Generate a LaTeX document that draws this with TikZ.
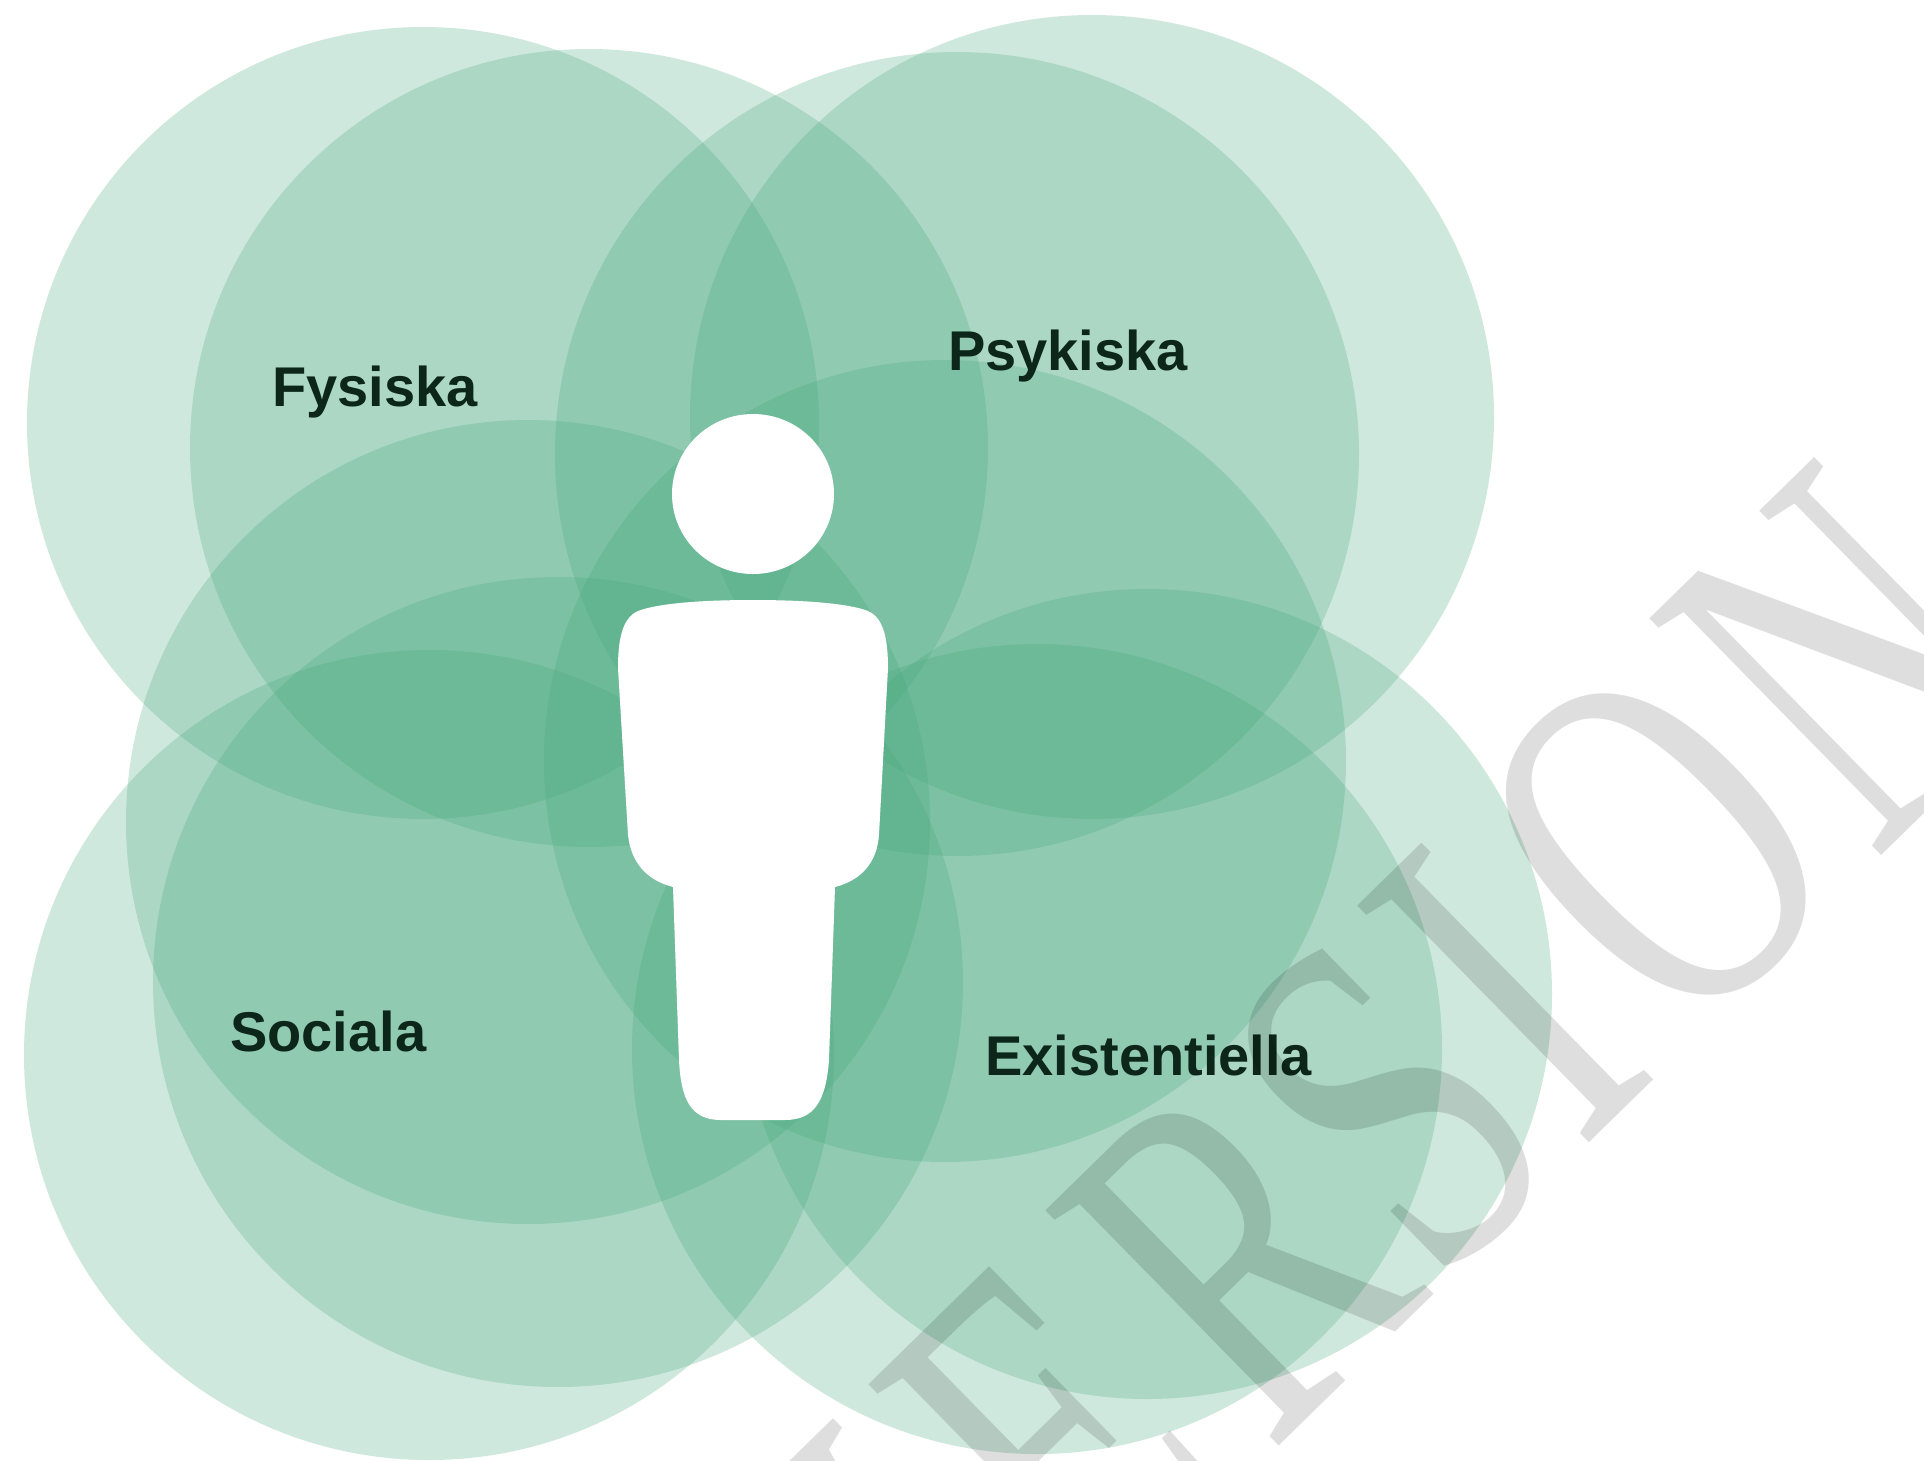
\documentclass[tikz,border=0pt]{standalone}
\usepackage{fontspec}
\newfontfamily\labfont{Liberation Sans}
\newfontfamily\wmfont{Liberation Serif}
\definecolor{circgreen}{HTML}{43A77B}
\definecolor{labcol}{HTML}{0C2619}
\newcommand{\wmlet}[1]{\scalebox{0.68}[1]{#1}}
\tikzset{
  ring/.style={fill=circgreen, fill opacity=0.25, draw=none},
  lab/.style={anchor=base west, inner sep=0pt, text=labcol, font=\labfont\bfseries\fontsize{56}{60}\selectfont},
  wmark/.style={anchor=base, inner sep=0pt, text=black, text opacity=0.13, font=\wmfont\fontsize{506}{506}\selectfont, rotate=44.4},
  person/.style={fill=white, draw=none}
}
\begin{document}
\begin{tikzpicture}[x=1pt,y=-1pt]
\useasboundingbox (0,0) rectangle (1924,1460);
\clip (0,0) rectangle (1924,1460);
\fill[white] (0,0) rectangle (1924,1460);
% circles
\fill[ring] (423,423) circle[radius=396];
\fill[ring] (589,448) circle[radius=399];
\fill[ring] (1092,417) circle[radius=402];
\fill[ring] (957,454) circle[radius=402];
\fill[ring] (528,822) circle[radius=402];
\fill[ring] (558,982) circle[radius=405];
\fill[ring] (429,1055) circle[radius=405];
\fill[ring] (945,761) circle[radius=401];
\fill[ring] (1147,994) circle[radius=405];
\fill[ring] (1037,1049) circle[radius=405];
% person
\fill[person] (753,494) ellipse[x radius=81, y radius=80];
\fill[person] (753,600) .. controls (810,600) and (850,604) .. (868,611)
  .. controls (884,618) and (888,640) .. (888,668)
  -- (879,835)
  .. controls (877,862) and (862,880) .. (835,887)
  -- (829,1060)
  .. controls (826,1100) and (815,1120) .. (785,1120)
  -- (721,1120)
  .. controls (691,1120) and (681,1100) .. (679,1060)
  -- (673,887)
  .. controls (646,880) and (631,862) .. (628,835)
  -- (618,668)
  .. controls (618,640) and (622,618) .. (638,611)
  .. controls (656,604) and (696,600) .. (753,600) -- cycle;
% labels
\node[lab] (fys) at (272,406) {Fysiska};
\node[lab] (psy) at (948,370) {Psykiska};
\node[lab] (soc) at (230,1051) {Sociala};
\node[lab] (exi) at (985,1075) {Existentiella};
% watermark
\node[wmark] (wv) at (979,1740) {\wmlet{V}};
\node[wmark] (we) at (1169,1555) {\wmlet{E}};
\node[wmark] (wr) at (1352,1374) {\wmlet{R}};
\node[wmark] (ws) at (1505,1225) {\wmlet{S}};
\node[wmark] (wi) at (1621,1111) {\wmlet{I}};
\node[wmark] (wo) at (1772,963) {\wmlet{O}};
\node[wmark] (wn) at (1963,776) {\wmlet{N}};
\end{tikzpicture}
\end{document}
